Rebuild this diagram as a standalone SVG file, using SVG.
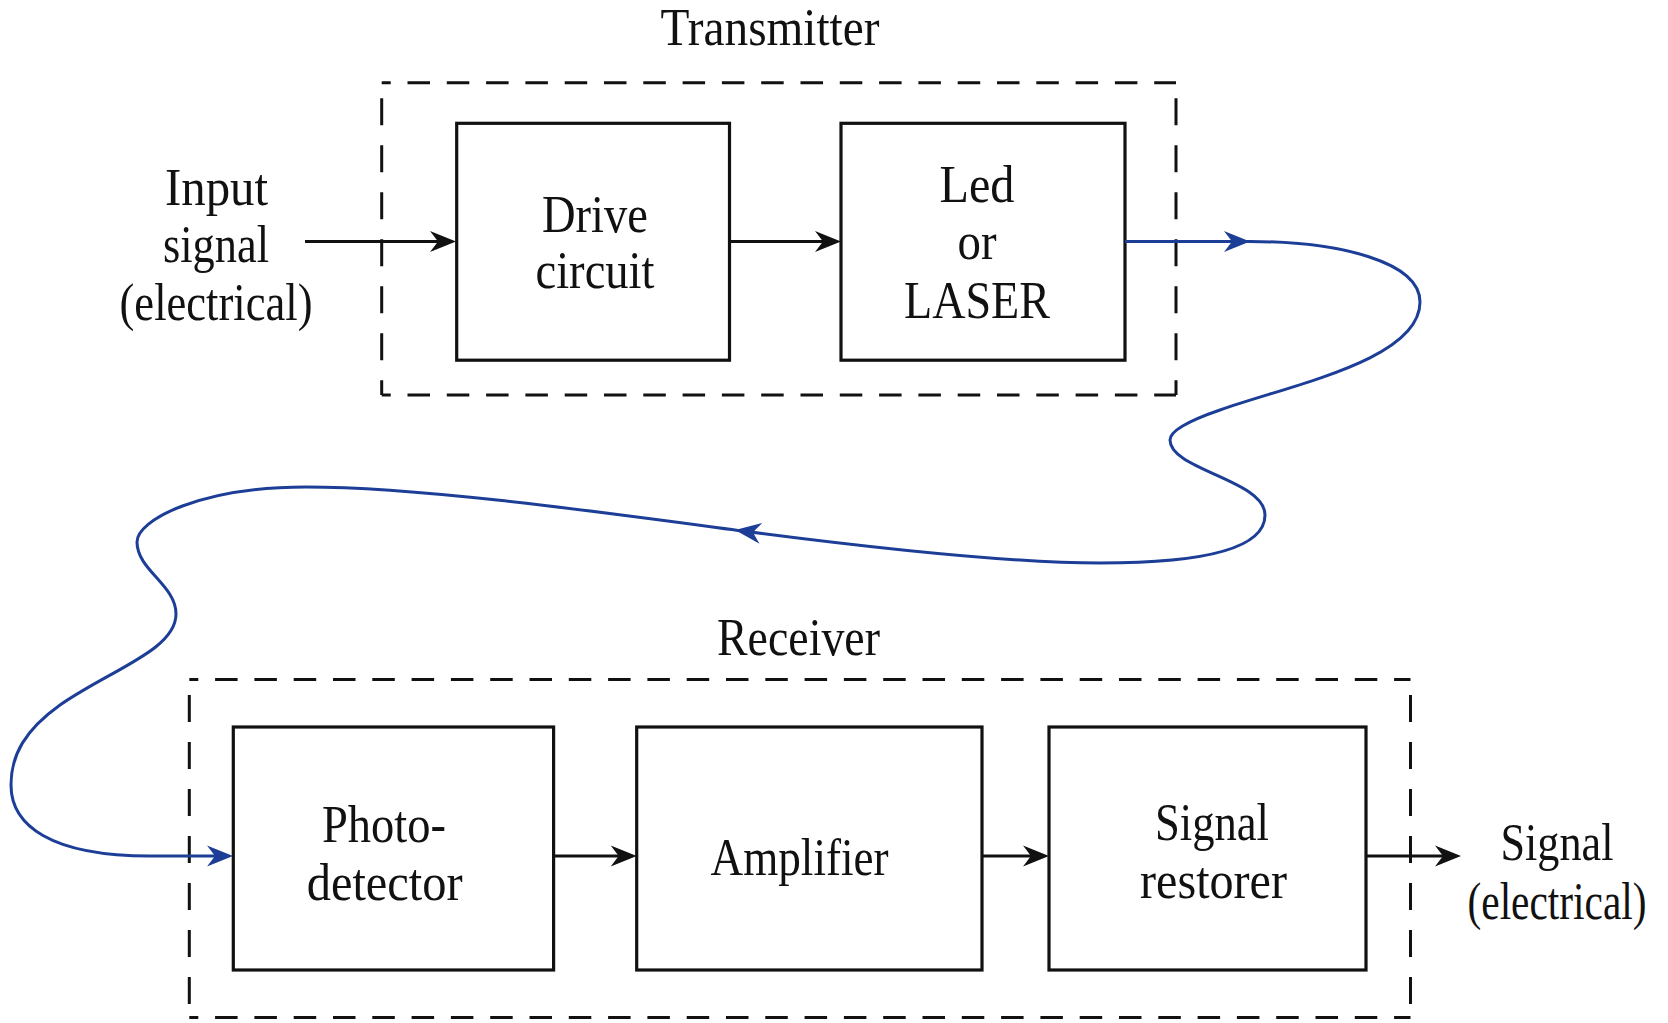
<svg xmlns="http://www.w3.org/2000/svg" width="1668" height="1023" viewBox="0 0 1668 1023">
  <style>
    text { font-family: "Liberation Serif", "Times New Roman", serif; font-size: 53px; fill: #111; text-anchor: middle; }
    .box { fill: none; stroke: #111; stroke-width: 3.2; }
    .dh { fill: none; stroke: #111; stroke-width: 3; stroke-dasharray: 22.5 16.8; }
    .dv { fill: none; stroke: #111; stroke-width: 3; stroke-dasharray: 27 20; }
    .wire { fill: none; stroke: #111; stroke-width: 3.2; }
    .fiber { fill: none; stroke: #1d3e96; stroke-width: 3; }
  </style>
  <defs>
    <marker id="ah-black" viewBox="-28 -12 30 24" refX="-8" refY="0" markerWidth="30" markerHeight="24" markerUnits="userSpaceOnUse" orient="auto">
      <path d="M0,0 L-26,-10.5 L-18,0 L-26,10.5 Z" fill="#111"/>
    </marker>
    <marker id="ah-blue" viewBox="-28 -12 30 24" refX="-8" refY="0" markerWidth="30" markerHeight="24" markerUnits="userSpaceOnUse" orient="auto">
      <path d="M0,0 L-26,-10.5 L-18,0 L-26,10.5 Z" fill="#1d3e96"/>
    </marker>
  </defs>

  <!-- transmitter enclosure -->
  <g id="transmitter">
    <line class="dh" x1="381.7" y1="82.7" x2="1176" y2="82.7" stroke-dashoffset="13.5"/>
    <line class="dh" x1="381.7" y1="395" x2="1176" y2="395" stroke-dashoffset="13.5"/>
    <line class="dv" x1="381.7" y1="82.7" x2="381.7" y2="395" stroke-dashoffset="31.5"/>
    <line class="dv" x1="1176" y1="82.7" x2="1176" y2="395" stroke-dashoffset="31.5"/>
    <text x="770" y="45" textLength="219" lengthAdjust="spacingAndGlyphs">Transmitter</text>
  </g>

  <!-- receiver enclosure -->
  <g id="receiver">
    <line class="dh" x1="189.3" y1="679.4" x2="1410.5" y2="679.4" stroke-dashoffset="13.5"/>
    <line class="dh" x1="189.3" y1="1017.5" x2="1410.5" y2="1017.5" stroke-dashoffset="13.5"/>
    <line class="dv" x1="189.3" y1="679.4" x2="189.3" y2="1017.5" stroke-dashoffset="31.5"/>
    <line class="dv" x1="1410.5" y1="679.4" x2="1410.5" y2="1017.5" stroke-dashoffset="31.5"/>
    <text x="798.5" y="655" textLength="163" lengthAdjust="spacingAndGlyphs">Receiver</text>
  </g>

  <g id="input-label">
    <text x="216.5" y="205" textLength="103" lengthAdjust="spacingAndGlyphs">Input</text>
    <text x="216" y="261.7" textLength="106" lengthAdjust="spacingAndGlyphs">signal</text>
    <text x="216" y="320" textLength="193" lengthAdjust="spacingAndGlyphs">(electrical)</text>
  </g>

  <g id="drive-circuit">
    <rect class="box" x="456.7" y="123.3" width="272.8" height="236.9"/>
    <text x="595" y="231.7" textLength="106" lengthAdjust="spacingAndGlyphs">Drive</text>
    <text x="595" y="288.3" textLength="119" lengthAdjust="spacingAndGlyphs">circuit</text>
  </g>

  <g id="led-laser">
    <rect class="box" x="841" y="123.3" width="284" height="236.9"/>
    <text x="977" y="202.3" textLength="75" lengthAdjust="spacingAndGlyphs">Led</text>
    <text x="977" y="258.6" textLength="39" lengthAdjust="spacingAndGlyphs">or</text>
    <text x="977" y="318" textLength="146" lengthAdjust="spacingAndGlyphs">LASER</text>
  </g>

  <g id="photodetector">
    <rect class="box" x="233.3" y="727" width="320.3" height="243"/>
    <text x="384" y="842.4" textLength="124" lengthAdjust="spacingAndGlyphs">Photo-</text>
    <text x="384.7" y="899.8" textLength="156" lengthAdjust="spacingAndGlyphs">detector</text>
  </g>

  <g id="amplifier">
    <rect class="box" x="636.7" y="727" width="345.3" height="243"/>
    <text x="799.6" y="874.7" textLength="178" lengthAdjust="spacingAndGlyphs">Amplifier</text>
  </g>

  <g id="signal-restorer">
    <rect class="box" x="1049" y="727" width="317" height="243"/>
    <text x="1212" y="839.7" textLength="114" lengthAdjust="spacingAndGlyphs">Signal</text>
    <text x="1213.5" y="898" textLength="147" lengthAdjust="spacingAndGlyphs">restorer</text>
  </g>

  <g id="output-label">
    <text x="1557" y="859.7" textLength="113" lengthAdjust="spacingAndGlyphs">Signal</text>
    <!-- horizontally condensed so the label stays inside the right margin -->
    <text x="0" y="0" transform="translate(1557,918.7) scale(0.78,1)">(electrical)</text>
  </g>

  <!-- connectors -->
  <g id="connectors">
    <path class="wire" d="M305,241.5 H448" marker-end="url(#ah-black)"/>
    <path class="wire" d="M729.5,241.5 H833" marker-end="url(#ah-black)"/>
    <path class="wire" d="M553.6,856 H628.7" marker-end="url(#ah-black)"/>
    <path class="wire" d="M982,856 H1041" marker-end="url(#ah-black)"/>
    <path class="wire" d="M1366,856 H1453" marker-end="url(#ah-black)"/>

    <!-- optical fibre from source to photodetector -->
    <path class="fiber" d="M1125,241.5 H1242" marker-end="url(#ah-blue)"/>
    <path class="fiber" d="M1242,241.5 H1250 C1340,241.5 1420,262 1420,302 C1420,360 1290,385 1220,410 C1185,422 1170,432 1170,440 C1170,470 1265,480 1265,515 C1265,555 1180,563 1100,563 C1000,563 850,545 743,531" marker-end="url(#ah-blue)"/>
    <path class="fiber" d="M743,531 C600,512 420,487 306,487 C200,487 137,520 137,542 C137,570 176,585 176,614 C176,650 110,670 60,705 C25,730 11,755 11,785 C11,825 50,856 150,856 H225" marker-end="url(#ah-blue)"/>
  </g>
</svg>
